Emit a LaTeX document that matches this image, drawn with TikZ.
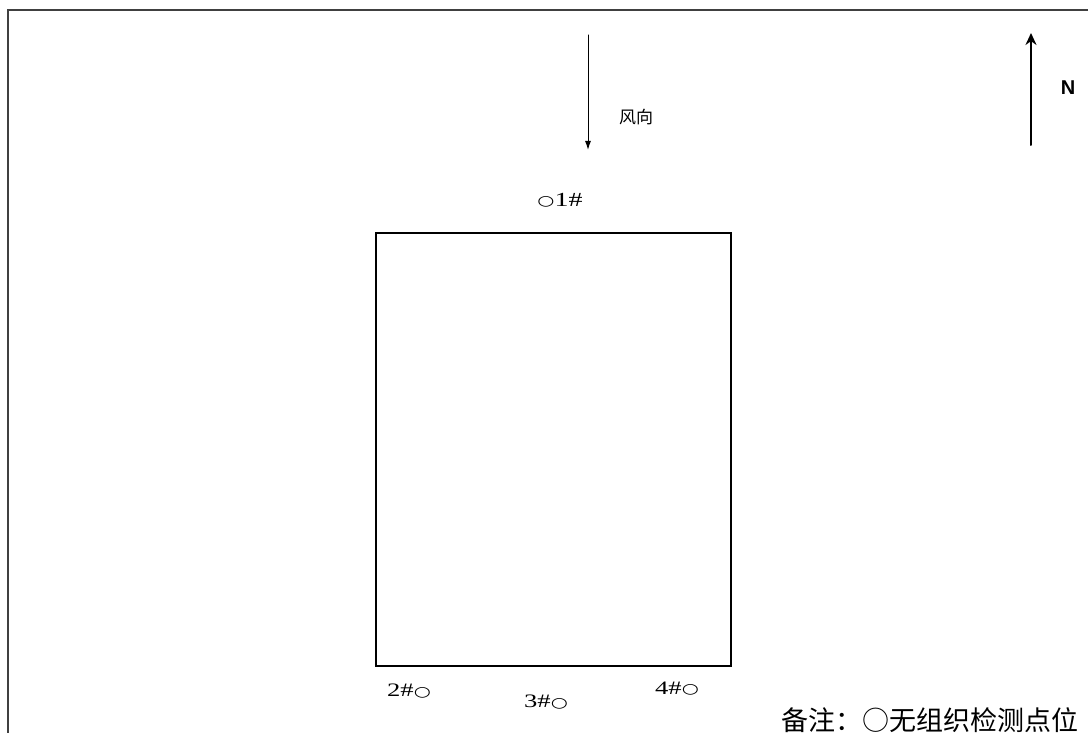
\documentclass[tikz,border=0pt]{standalone}
\usepackage{fontspec}
\setmainfont{Liberation Serif}
\newfontfamily\cjkfont{Noto Sans CJK SC}
\newfontfamily\nfont{Liberation Sans}
\newfontfamily\symfont{DejaVu Sans}
\usetikzlibrary{arrows,arrows.meta}
\newcommand{\ptmark}{\raisebox{0.8pt}{\symfont\fontsize{14}{14}\selectfont ○}}
\tikzset{pointlabel/.style={inner sep=0pt,xscale=1.4,font=\fontsize{19}{19}\selectfont}}

\begin{document}
\begin{tikzpicture}[x=1pt,y=-1pt,cap=round,>=latex,every node/.style={scale=1}]
			\useasboundingbox (0,0) rectangle (1088,733);
			\fill[white] (0,0) rectangle (1088,733);
			\draw[line width=2pt,black!75] (8,733)--(8,10)--(1088,10);
			\draw[line width=1.6pt] (376,233) rectangle (731,666);
			% wind and north
			\coordinate (windtop) at (588,35);
			\coordinate (windbot) at (588,150);
			\draw[line width=1pt,-{Latex[length=9pt,width=6pt]}] (windtop)--(windbot);
			\node[inner sep=0pt,font=\cjkfont\fontsize{17}{17}\selectfont] (wind) at (636,117) {风向};
			\coordinate (nbot) at (1031,145);
			\coordinate (ntop) at (1031,33);
			\draw[line width=2pt,-{Stealth[length=12pt,width=11pt]}] (nbot)--(ntop);
			\node[inner sep=0pt,font=\nfont\bfseries\fontsize{20}{20}\selectfont] (north) at (1068,88) {N};
			% monitoring points
			\node[pointlabel,font=\fontsize{20}{20}\selectfont] (p1) at (560,200) {\ptmark1\#};
			\foreach \x/\y/\n in {409/691/2, 546/702/3, 677/689/4}
			\node[pointlabel] (p\n) at (\x,\y) {\n\#\ptmark};
			\node[inner sep=0pt,anchor=west,font=\cjkfont\fontsize{27}{27}\selectfont] (note) at (781,720) {备注：○无组织检测点位};
		\end{tikzpicture}
\end{document}
